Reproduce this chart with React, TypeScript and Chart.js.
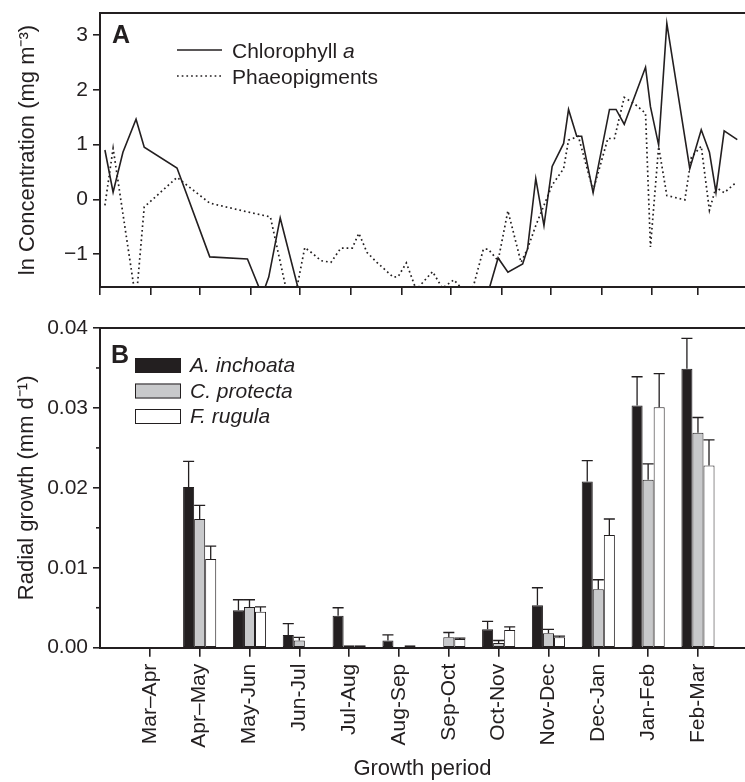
import React, { useEffect, useRef } from 'react';
import { Chart, registerables } from 'chart.js';

Chart.register(...registerables);

const FONT = "'Liberation Sans', Arial, Helvetica, sans-serif";
const INK = '#231f20';

// ---------- Panel A: pigment concentrations (x = days since 1 March) ----------
const monthLengths = [31, 30, 31, 30, 31, 31, 30, 31, 30, 31, 31, 28];
const chlDays = [3, 8, 14, 22, 27, 47, 67, 90, 99, 103, 110, 125, 234, 243, 249, 258, 261, 266, 271, 276, 283, 286, 291, 294, 301, 311, 315, 320, 333, 336, 341, 346, 360, 367, 372, 376, 381, 389];
const chlValues = [0.9, 0.13, 0.86, 1.46, 0.95, 0.57, -1.05, -1.09, -1.75, -1.42, -0.34, -2.1, -2.0, -1.07, -1.33, -1.18, -0.9, 0.38, -0.48, 0.6, 1.02, 1.64, 1.15, 1.15, 0.12, 1.64, 1.64, 1.37, 2.41, 1.69, 0.99, 3.21, 0.56, 1.27, 0.86, 0.13, 1.25, 1.09];
const phaeoDays = [3, 8, 22, 27, 47, 67, 90, 104, 117, 125, 129, 135, 141, 147, 154, 158, 163, 169, 179, 182, 187, 193, 203, 209, 216, 226, 234, 237, 243, 249, 257, 261, 266, 276, 283, 286, 292, 301, 310, 314, 320, 326, 333, 336, 341, 346, 357, 361, 367, 372, 376, 381, 388];
const phaeoValues = [-0.11, 0.93, -1.86, -0.14, 0.4, -0.07, -0.23, -0.32, -2.1, -0.88, -0.97, -1.12, -1.15, -0.89, -0.89, -0.62, -0.97, -1.15, -1.42, -1.41, -1.16, -1.65, -1.32, -1.62, -1.47, -1.8, -0.91, -0.91, -1.12, -0.21, -1.15, -0.9, -0.48, 0.26, 0.56, 1.08, 1.15, 0.16, 1.11, 1.11, 1.86, 1.75, 1.57, -0.87, 0.96, 0.07, -0.01, 0.77, 0.97, -0.2, 0.22, 0.12, 0.3];
const concTicks = [-1, 0, 1, 2, 3];

// ---------- Panel B: radial growth ----------
const periods = ['Mar–Apr', 'Apr–May', 'May-Jun', 'Jun-Jul', 'Jul-Aug', 'Aug-Sep', 'Sep-Oct', 'Oct-Nov', 'Nov-Dec', 'Dec-Jan', 'Jan-Feb', 'Feb-Mar'];
const inchoataMean = [null, 0.0201, 0.0047, 0.0016, 0.004, 0.0009, null, 0.0023, 0.0053, 0.0208, 0.0303, 0.0349];
const inchoataSE = [0, 0.0032, 0.0013, 0.0014, 0.001, 0.0007, 0, 0.001, 0.0022, 0.0026, 0.0036, 0.0038];
const protectaMean = [null, 0.0161, 0.0051, 0.0009, 0.0003, null, 0.0013, 0.0006, 0.0018, 0.0073, 0.021, 0.0269];
const protectaSE = [0, 0.0017, 0.0009, 0.0004, 0, 0, 0.0006, 0.0003, 0.0005, 0.0012, 0.002, 0.0019];
const rugulaMean = [null, 0.0111, 0.0045, null, 0.0003, 0.0003, 0.0011, 0.0022, 0.0013, 0.0141, 0.0301, 0.0228];
const rugulaSE = [0, 0.0016, 0.0006, 0, 0, 0, 0.0001, 0.0004, 0.00015, 0.002, 0.0042, 0.0032];
const growthTicks = [0, 0.01, 0.02, 0.03, 0.04];
const growthMinorTicks = [0.005, 0.015, 0.025, 0.035];

const monthStarts = monthLengths.reduce((acc, d) => { acc.push(acc[acc.length - 1] + d); return acc; }, [0] as number[]);

const W = 745;
const TOP_H = 300;
const BOT_H = 482;

function fixWidth(w: number) {
  return (s: any) => { s.width = w; s.paddingTop = 0; s.paddingBottom = 0; };
}
function fixHeight(h: number) {
  return (s: any) => { s.height = h; s.paddingLeft = 0; s.paddingRight = 0; };
}

export default function App() {
  const topRef = useRef<HTMLCanvasElement>(null);
  const botRef = useRef<HTMLCanvasElement>(null);

  useEffect(() => {
    const tickFont = { family: FONT, size: 21 };
    const titleFont = { family: FONT, size: 22 };
    const pxPerDay = (12 * 49.83) / 365;
    const topMax = (W - 100) / pxPerDay;

    const topPlugin = {
      id: 'topDecor',
      afterDraw(chart: any) {
        const { ctx, chartArea } = chart;
        ctx.save();
        ctx.strokeStyle = INK;
        ctx.lineWidth = 2;
        ctx.beginPath();
        ctx.moveTo(chartArea.left - 1, chartArea.top);
        ctx.lineTo(chart.width, chartArea.top);
        ctx.stroke();
        ctx.fillStyle = INK;
        ctx.textBaseline = 'alphabetic';
        ctx.font = `bold 25px ${FONT}`;
        ctx.fillText('A', 112, 43);
        const rows = [50, 76];
        chart.data.datasets.forEach((ds: any, i: number) => {
          const y = rows[i];
          ctx.save();
          ctx.lineWidth = ds.borderWidth;
          ctx.setLineDash(ds.borderDash || []);
          ctx.beginPath();
          ctx.moveTo(177, y);
          ctx.lineTo(222, y);
          ctx.stroke();
          ctx.restore();
          const label: string = ds.label;
          const cut = ds.italicFrom ?? label.length;
          ctx.font = `21px ${FONT}`;
          const plain = label.slice(0, cut);
          ctx.fillText(plain, 232, y + 7.5);
          if (cut < label.length) {
            const w = ctx.measureText(plain).width;
            ctx.font = `italic 21px ${FONT}`;
            ctx.fillText(label.slice(cut), 232 + w, y + 7.5);
          }
        });
        ctx.restore();
      },
    };

    const topChart = new Chart(topRef.current!, {
      type: 'line',
      data: {
        datasets: [
          {
            label: 'Chlorophyll a',
            italicFrom: 12,
            data: chlDays.map((d, i) => ({ x: d, y: chlValues[i] })),
            borderColor: INK,
            borderWidth: 1.6,
            pointRadius: 0,
            tension: 0,
            fill: false,
            clip: 0,
          } as any,
          {
            label: 'Phaeopigments',
            data: phaeoDays.map((d, i) => ({ x: d, y: phaeoValues[i] })),
            borderColor: INK,
            borderWidth: 1.7,
            borderDash: [1.7, 3],
            borderCapStyle: 'butt',
            pointRadius: 0,
            tension: 0,
            fill: false,
            clip: 0,
          } as any,
        ],
      },
      options: {
        animation: false,
        responsive: false,
        devicePixelRatio: 1,
        layout: { padding: { top: 13, left: 0, right: 0, bottom: 0 } },
        plugins: { legend: { display: false }, tooltip: { enabled: false } },
        scales: {
          x: {
            type: 'linear',
            min: 0,
            max: topMax,
            bounds: 'data',
            afterBuildTicks: (s: any) => { s.ticks = monthStarts.map((v) => ({ value: v })); },
            ticks: { autoSkip: false, maxRotation: 0, callback: () => '', font: tickFont },
            grid: { display: true, drawOnChartArea: false, drawTicks: true, tickLength: 8, color: INK, lineWidth: 1.6 },
            border: { display: true, color: INK, width: 2 },
            afterFit: fixHeight(TOP_H - 287),
          },
          y: {
            type: 'linear',
            min: -1.6,
            max: 3.4,
            bounds: 'data',
            afterBuildTicks: (s: any) => { s.ticks = concTicks.map((v) => ({ value: v })); },
            ticks: {
              font: tickFont,
              color: INK,
              padding: 5,
              callback: (v: any) => (v < 0 ? '\u2212' + Math.abs(v) : String(v)),
            },
            grid: { display: true, drawOnChartArea: false, drawTicks: true, tickLength: 7, color: INK, lineWidth: 1.6 },
            border: { display: true, color: INK, width: 2 },
            title: { display: true, text: 'ln Concentration (mg m\u207B\u00B3)', font: titleFont, color: INK, padding: { top: 15, bottom: 0 } },
            afterFit: fixWidth(100),
          },
        },
      } as any,
      plugins: [topPlugin],
    });

    const errPlugin = {
      id: 'decorB',
      afterDatasetsDraw(chart: any) {
        const { ctx } = chart;
        const yScale = chart.scales.y;
        ctx.save();
        ctx.strokeStyle = INK;
        ctx.lineWidth = 1.3;
        chart.data.datasets.forEach((ds: any, d: number) => {
          const meta = chart.getDatasetMeta(d);
          meta.data.forEach((bar: any, i: number) => {
            const m = ds.data[i].y;
            const e = ds.errors[i];
            if (m == null || !e) return;
            const { x, y, width } = bar.getProps(['x', 'y', 'width'], true);
            const yTop = yScale.getPixelForValue(m + e);
            ctx.beginPath();
            ctx.moveTo(x, y);
            ctx.lineTo(x, yTop);
            ctx.moveTo(x - width / 2, yTop);
            ctx.lineTo(x + width / 2, yTop);
            ctx.stroke();
          });
        });
        ctx.restore();
      },
      afterDraw(chart: any) {
        const { ctx, chartArea } = chart;
        const yScale = chart.scales.y;
        ctx.save();
        ctx.strokeStyle = INK;
        ctx.lineWidth = 2;
        ctx.beginPath();
        ctx.moveTo(chartArea.left - 1, chartArea.top);
        ctx.lineTo(chart.width, chartArea.top);
        ctx.stroke();
        ctx.lineWidth = 1.6;
        growthMinorTicks.forEach((v) => {
          const y = yScale.getPixelForValue(v);
          ctx.beginPath();
          ctx.moveTo(chartArea.left - 4, y);
          ctx.lineTo(chartArea.left, y);
          ctx.stroke();
        });
        ctx.fillStyle = INK;
        ctx.textBaseline = 'alphabetic';
        ctx.font = `bold 25px ${FONT}`;
        ctx.fillText('B', 111, 63);
        const rows = [58, 83.5, 109];
        chart.data.datasets.forEach((ds: any, i: number) => {
          const y = rows[i];
          ctx.fillStyle = ds.backgroundColor;
          ctx.fillRect(135, y, 46, 15);
          ctx.lineWidth = 1;
          ctx.strokeStyle = INK;
          ctx.strokeRect(135.5, y + 0.5, 45, 14);
          ctx.fillStyle = INK;
          ctx.font = `italic 21px ${FONT}`;
          ctx.fillText(ds.label, 190, y + 14);
        });
        ctx.restore();
      },
    };

    const barCommon = { borderColor: INK, borderWidth: 1, borderSkipped: false, categoryPercentage: 0.665, barPercentage: 1 };
    const toXY = (arr: (number | null)[]) => arr.map((v, i) => ({ x: i + 1, y: v }));

    const botChart = new Chart(botRef.current!, {
      type: 'bar',
      data: {
        datasets: [
          { label: 'A. inchoata', data: toXY(inchoataMean), errors: inchoataSE, backgroundColor: INK, ...barCommon } as any,
          { label: 'C. protecta', data: toXY(protectaMean), errors: protectaSE, backgroundColor: '#c8c9cb', ...barCommon } as any,
          { label: 'F. rugula', data: toXY(rugulaMean), errors: rugulaSE, backgroundColor: '#ffffff', ...barCommon } as any,
        ],
      },
      options: {
        animation: false,
        responsive: false,
        devicePixelRatio: 1,
        layout: { padding: { top: 28, left: 0, right: 0, bottom: 0 } },
        plugins: { legend: { display: false }, tooltip: { enabled: false } },
        scales: {
          x: {
            type: 'linear',
            min: 0,
            max: (W - 100) / 49.83,
            bounds: 'data',
            offset: false,
            afterBuildTicks: (s: any) => { s.ticks = periods.map((_, i) => ({ value: i + 1 })); },
            ticks: {
              autoSkip: false,
              minRotation: 90,
              maxRotation: 90,
              padding: 7,
              font: tickFont,
              color: INK,
              callback: (v: any) => periods[Math.round(v) - 1] ?? '',
            },
            grid: { display: true, offset: false, drawOnChartArea: false, drawTicks: true, tickLength: 9, color: INK, lineWidth: 1.6 },
            border: { display: true, color: INK, width: 2 },
            title: { display: true, text: 'Growth period', font: titleFont, color: INK, padding: { top: 0, bottom: 0 } },
            afterFit: fixHeight(BOT_H - 347.7),
          },
          y: {
            type: 'linear',
            min: 0,
            max: 0.04,
            bounds: 'data',
            afterBuildTicks: (s: any) => { s.ticks = growthTicks.map((v) => ({ value: v })); },
            ticks: { font: tickFont, color: INK, padding: 5, callback: (v: any) => Number(v).toFixed(2) },
            grid: { display: true, drawOnChartArea: false, drawTicks: true, tickLength: 7, color: INK, lineWidth: 1.6 },
            border: { display: true, color: INK, width: 2 },
            title: { display: true, text: 'Radial growth (mm d\u207B\u00B9)', font: titleFont, color: INK, padding: { top: 14, bottom: 0 } },
            afterFit: fixWidth(100),
          },
        },
      } as any,
      plugins: [errPlugin],
    });

    return () => {
      topChart.destroy();
      botChart.destroy();
    };
  }, []);

  return (
    <div style={{ position: 'absolute', left: 0, top: 0, width: W, height: TOP_H + BOT_H, background: '#fff' }}>
      <canvas ref={topRef} width={W} height={TOP_H} style={{ position: 'absolute', left: 0, top: 0, width: W, height: TOP_H }} />
      <canvas ref={botRef} width={W} height={BOT_H} style={{ position: 'absolute', left: 0, top: TOP_H, width: W, height: BOT_H }} />
    </div>
  );
}
